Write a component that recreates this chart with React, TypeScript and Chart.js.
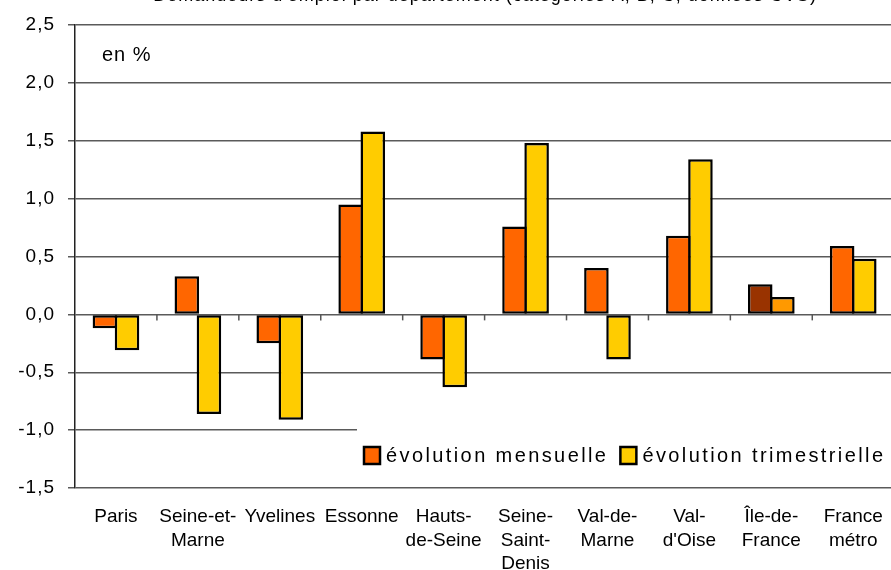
import { useEffect, useRef } from "react";
import { Chart, registerables } from "chart.js";

Chart.register(...registerables);

const titleText =
  "Demandeurs d'emploi par département (catégories A, B, C, données CVS)";
const unitLabel = "en %";
const categories: string[][] = [
  ["Paris"],
  ["Seine-et-", "Marne"],
  ["Yvelines"],
  ["Essonne"],
  ["Hauts-", "de-Seine"],
  ["Seine-", "Saint-", "Denis"],
  ["Val-de-", "Marne"],
  ["Val-", "d'Oise"],
  ["Île-de-", "France"],
  ["France", "métro"],
];
const seriesLabels = ["évolution mensuelle", "évolution trimestrielle"];
const monthly = [-0.12, 0.33, -0.25, 0.95, -0.39, 0.76, 0.4, 0.68, 0.26, 0.59];
const quarterly = [-0.31, -0.86, -0.91, 1.58, -0.63, 1.48, -0.39, 1.34, 0.15, 0.48];
const monthlyColors = ["#FF6600", "#FF6600", "#FF6600", "#FF6600", "#FF6600", "#FF6600", "#FF6600", "#FF6600", "#993300", "#FF6600"];
const quarterlyColors = ["#FFCC00", "#FFCC00", "#FFCC00", "#FFCC00", "#FFCC00", "#FFCC00", "#FFCC00", "#FFCC00", "#FF9900", "#FFCC00"];
const legendColors = ["#FF6600", "#FFCC00"];
const yMin = -1.5;
const yMax = 2.5;
const yStep = 0.5;

const FONT = "'Liberation Sans', Arial, sans-serif";

const spacingPlugin = {
  id: "spacing",
  beforeDraw(chart: any) {
    chart.ctx.letterSpacing = "0px";
  },
  beforeDatasetsDraw(chart: any) {
    // y tick labels are drawn on a later layer (z: 1) with this spacing
    chart.ctx.letterSpacing = "1px";
  },
};

const decorPlugin = {
  id: "decor",
  afterDatasetsDraw(chart: any) {
    const { ctx, scales } = chart;
    const x = scales.x;
    const y = scales.y;
    const y0 = y.getPixelForValue(0);
    ctx.save();
    ctx.strokeStyle = "#555";
    ctx.lineWidth = 1.5;
    for (let i = 0; i < categories.length - 1; i++) {
      const px = (x.getPixelForValue(i) + x.getPixelForValue(i + 1)) / 2;
      ctx.beginPath();
      ctx.moveTo(px, y0);
      ctx.lineTo(px, y0 + 6);
      ctx.stroke();
    }
    ctx.restore();
  },
  afterDraw(chart: any) {
    const { ctx, chartArea } = chart;
    ctx.save();
    ctx.letterSpacing = "1px";
    // title (mostly cropped at the top)
    ctx.fillStyle = "#000";
    ctx.font = `18px ${FONT}`;
    ctx.textAlign = "center";
    ctx.textBaseline = "alphabetic";
    ctx.fillText(titleText, 485, 1);
    // unit label
    ctx.font = `20px ${FONT}`;
    ctx.textAlign = "left";
    ctx.fillText(unitLabel, chartArea.left + 27, 61);
    // legend box
    ctx.fillStyle = "#fff";
    ctx.fillRect(357, 424, chartArea.right - 357 + 10, 52);
    ctx.font = `20px ${FONT}`;
    ctx.letterSpacing = "2.4px";
    let lx = 364;
    const sy = 447;
    for (let i = 0; i < seriesLabels.length; i++) {
      ctx.fillStyle = legendColors[i];
      ctx.fillRect(lx, sy, 16, 17);
      ctx.strokeStyle = "#000";
      ctx.lineWidth = 2.5;
      ctx.strokeRect(lx, sy, 16, 17);
      ctx.fillStyle = "#000";
      ctx.fillText(seriesLabels[i], lx + 22, 462);
      const w = ctx.measureText(seriesLabels[i]).width;
      lx = lx + 22 + w + 12;
    }
    ctx.restore();
  },
};

export default function App() {
  const ref = useRef<HTMLCanvasElement | null>(null);
  useEffect(() => {
    if (!ref.current) return;
    const common = {
      borderColor: "#000",
      borderWidth: 2.5,
      borderSkipped: false,
      categoryPercentage: 0.54,
      barPercentage: 1.11,
    };
    const chart = new Chart(ref.current, {
      type: "bar",
      data: {
        labels: categories,
        datasets: [
          { label: seriesLabels[0], data: monthly, backgroundColor: monthlyColors, ...common },
          { label: seriesLabels[1], data: quarterly, backgroundColor: quarterlyColors, ...common },
        ],
      },
      options: {
        responsive: false,
        animation: false,
        devicePixelRatio: 1,
        layout: { padding: { top: 25, right: 4, left: 0, bottom: 0 } },
        plugins: {
          legend: { display: false },
          title: { display: false },
          tooltip: { enabled: false },
        },
        scales: {
          x: {
            grid: { display: false, drawTicks: false },
            border: { display: false },
            ticks: {
              color: "#000",
              font: { family: FONT, size: 19, lineHeight: 1.24 },
              padding: 17,
              maxRotation: 0,
              autoSkip: false,
            },
            afterFit(scale: any) {
              scale.height = 82;
            },
          },
          y: {
            min: yMin,
            max: yMax,
            grid: {
              color: "#5a5a5a",
              lineWidth: 1.5,
              drawTicks: true,
              tickLength: 7,
            },
            border: { display: true, color: "#222", width: 1.5 },
            ticks: {
              z: 1,
              stepSize: yStep,
              color: "#000",
              font: { family: FONT, size: 19 },
              padding: 13,
              callback: (v: any) => Number(v).toFixed(1).replace(".", ","),
            },
            afterFit(scale: any) {
              scale.width = 75;
            },
          },
        },
      },
      plugins: [spacingPlugin, decorPlugin],
    });
    return () => chart.destroy();
  }, []);
  return (
    <div
      style={{
        position: "fixed",
        left: 0,
        top: 0,
        width: 891,
        height: 570,
        overflow: "hidden",
        background: "#fff",
      }}
    >
      <canvas ref={ref} width={900} height={570} style={{ display: "block" }} />
    </div>
  );
}
